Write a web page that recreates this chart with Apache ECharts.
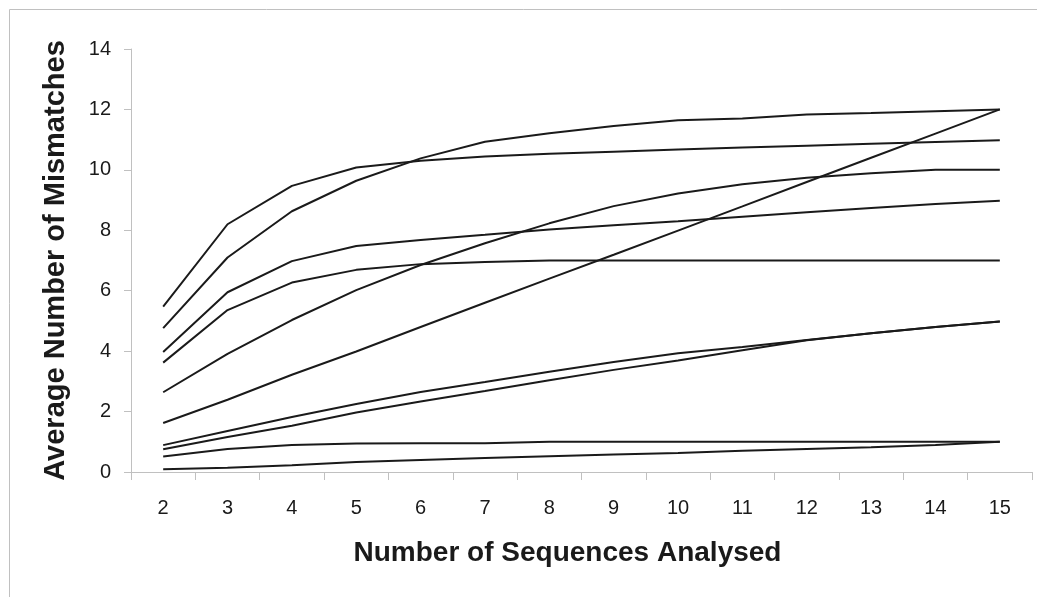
<!DOCTYPE html>
<html>
<head>
<meta charset="utf-8">
<script src="https://cdn.jsdelivr.net/npm/echarts@6/dist/echarts.min.js"></script>
<style>
  html, body { margin: 0; padding: 0; background: #ffffff; }
  #chart { width: 1037px; height: 597px; }
</style>
</head>
<body>
<div id="chart"></div>
<script>
const categories = ['2','3','4','5','6','7','8','9','10','11','12','13','14','15'];
const yTicks = { min: 0, max: 14, interval: 2 };
const xTitle = 'Number of Sequences Analysed';
const yTitle = 'Average Number of Mismatches';

const seriesA = [5.47, 8.2, 9.47, 10.08, 10.3, 10.44, 10.53, 10.6, 10.67, 10.74, 10.8, 10.86, 10.92, 10.98];
const seriesB = [4.76, 7.1, 8.63, 9.64, 10.38, 10.93, 11.21, 11.45, 11.64, 11.7, 11.83, 11.88, 11.94, 12.0];
const seriesC = [3.97, 5.95, 6.98, 7.48, 7.68, 7.85, 8.03, 8.17, 8.3, 8.45, 8.6, 8.74, 8.87, 8.98];
const seriesD = [3.62, 5.36, 6.27, 6.69, 6.88, 6.95, 7.0, 7.0, 7.0, 7.0, 7.0, 7.0, 7.0, 7.0];
const seriesE = [2.64, 3.91, 5.03, 6.02, 6.85, 7.57, 8.23, 8.8, 9.22, 9.52, 9.74, 9.89, 10.0, 10.0];
const seriesF = [1.62, 2.39, 3.22, 3.99, 4.8, 5.6, 6.4, 7.19, 7.99, 8.79, 9.6, 10.4, 11.2, 12.0];
const seriesG = [0.89, 1.36, 1.82, 2.25, 2.65, 2.98, 3.32, 3.64, 3.93, 4.14, 4.37, 4.59, 4.8, 4.98];
const seriesH = [0.75, 1.16, 1.53, 1.97, 2.33, 2.68, 3.04, 3.38, 3.69, 4.03, 4.36, 4.59, 4.8, 4.98];
const seriesI = [0.51, 0.76, 0.89, 0.94, 0.95, 0.95, 1.0, 1.0, 1.0, 1.0, 1.0, 1.0, 1.0, 1.0];
const seriesJ = [0.09, 0.14, 0.22, 0.33, 0.4, 0.46, 0.52, 0.58, 0.63, 0.7, 0.76, 0.82, 0.89, 1.0];

const allSeries = [seriesA, seriesB, seriesC, seriesD, seriesE, seriesF, seriesG, seriesH, seriesI, seriesJ];

const chart = echarts.init(document.getElementById('chart'), null, { renderer: 'canvas' });
const font = '"Liberation Sans", Arial, Helvetica, sans-serif';
const axisGrey = '#c0c0c0';
const textCol = '#1a1a1a';

chart.setOption({
  animation: false,
  backgroundColor: '#ffffff',
  graphic: [{
    type: 'rect',
    shape: { x: 9.5, y: 9.5, width: 1200, height: 800 },
    style: { fill: 'none', stroke: axisGrey, lineWidth: 1 },
    silent: true,
    z: -1
  }],
  grid: { left: 131, right: 5, top: 49, bottom: 125, containLabel: false },
  xAxis: {
    type: 'category',
    data: categories,
    boundaryGap: true,
    name: xTitle,
    nameLocation: 'middle',
    nameGap: 67,
    nameTextStyle: { fontFamily: font, fontSize: 28, fontWeight: 'bold', color: textCol, padding: [0, 28, 0, 0] },
    axisLine: { show: true, lineStyle: { color: axisGrey, width: 1 } },
    axisTick: { show: true, alignWithLabel: false, length: 8, lineStyle: { color: axisGrey } },
    axisLabel: { fontFamily: font, fontSize: 20, color: textCol, margin: 26 },
    splitLine: { show: false }
  },
  yAxis: {
    type: 'value',
    min: yTicks.min,
    max: yTicks.max,
    interval: yTicks.interval,
    name: yTitle,
    nameLocation: 'middle',
    nameRotate: 90,
    nameGap: 61,
    nameTextStyle: { fontFamily: font, fontSize: 29, fontWeight: 'bold', color: textCol },
    axisLine: { show: true, lineStyle: { color: axisGrey, width: 1 } },
    axisTick: { show: true, length: 7, lineStyle: { color: axisGrey } },
    axisLabel: { fontFamily: font, fontSize: 20, color: textCol, margin: 20 },
    splitLine: { show: false }
  },
  series: allSeries.map((d, i) => ({
    type: 'line',
    name: 'S' + (i + 1),
    data: d,
    symbol: 'none',
    smooth: false,
    lineStyle: { color: '#1a1a1a', width: 2 },
    emphasis: { disabled: true }
  }))
});
</script>
</body>
</html>
